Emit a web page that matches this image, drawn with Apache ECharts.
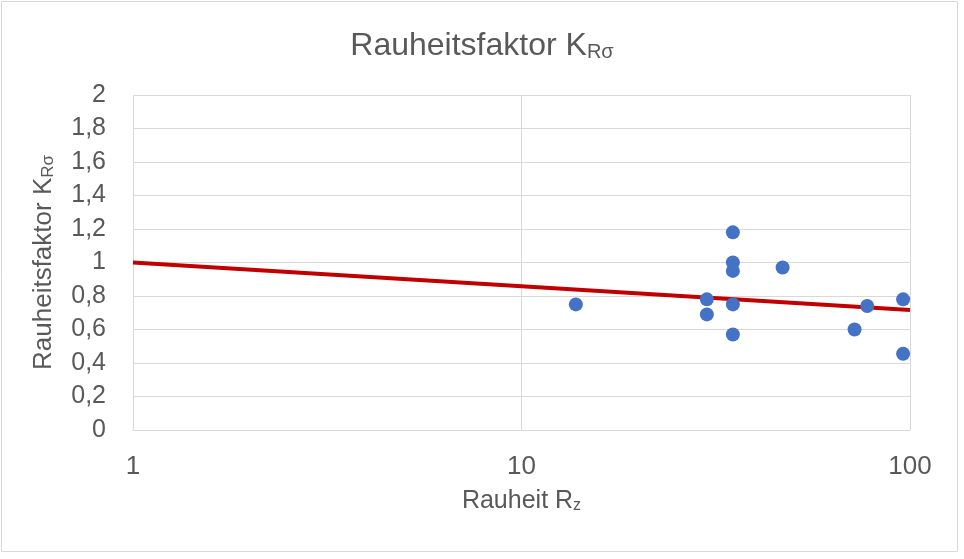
<!DOCTYPE html>
<html>
<head>
<meta charset="utf-8" />
<title>Rauheitsfaktor</title>
<script src="https://cdn.jsdelivr.net/npm/echarts@6/dist/echarts.min.js"></script>
<style>
  html, body { margin: 0; padding: 0; background: #fff; }
  #chart { width: 964px; height: 559px; }
</style>
</head>
<body>
<div id="chart"></div>
<script type="text/javascript">
// Messpunkte: Rauheit Rz und Rauheitsfaktor K_Rsigma
var rzValues = [13.8, 30, 30, 35, 35, 35, 35, 35, 47, 72, 77.6, 96, 96];
var kValues = [0.75, 0.78, 0.69, 1.18, 1.0, 0.95, 0.75, 0.57, 0.97, 0.60, 0.74, 0.78, 0.455];
// Trendlinie (Endpunkte)
var trendRz = [1, 100];
var trendK = [1.0, 0.716];
// Achsen
var xTicks = [1, 10, 100];
var yMin = 0, yMax = 2, yStep = 0.2;

var textColor = '#595959';
var fontFam = '"Liberation Sans", Arial, sans-serif';

function pairs(xs, ys) {
	var out = [];
	for (var i = 0; i < xs.length; i++) out.push([xs[i], ys[i]]);
	return out;
}

var myChart = echarts.init(document.getElementById('chart'));
var option = {
	backgroundColor: '#fff',
	animation: false,
	textStyle: { fontFamily: fontFam, color: textColor },
	title: {
		left: 'center',
		top: 25,
		text: '{a|Rauheitsfaktor K}{b|Rσ}',
		textStyle: {
			fontWeight: 'normal',
			rich: {
				a: { fontFamily: fontFam, fontSize: 32, fontWeight: 'normal', color: textColor, lineHeight: 32, verticalAlign: 'bottom' },
				b: { fontFamily: fontFam, fontSize: 20, fontWeight: 'normal', color: textColor, lineHeight: 6, verticalAlign: 'bottom' }
			}
		}
	},
	graphic: [{
		type: 'rect',
		shape: { x: 1.5, y: 1.5, width: 956, height: 550 },
		style: { fill: 'none', stroke: '#d9d9d9', lineWidth: 1 },
		silent: true
	}],
	grid: { left: 133, top: 95, right: 54, bottom: 129, containLabel: false },
	xAxis: {
		type: 'log',
		logBase: 10,
		min: xTicks[0],
		max: xTicks[xTicks.length - 1],
		name: '{a|Rauheit R}{b|z}',
		nameLocation: 'middle',
		nameGap: 59,
		nameTextStyle: {
			rich: {
				a: { fontFamily: fontFam, fontSize: 25, color: textColor, lineHeight: 25, verticalAlign: 'bottom' },
				b: { fontFamily: fontFam, fontSize: 16, color: textColor, lineHeight: 6, verticalAlign: 'bottom' }
			}
		},
		axisLine: { show: true, lineStyle: { color: '#d9d9d9', width: 1 } },
		axisTick: { show: false },
		axisLabel: { fontSize: 26, color: textColor, margin: 24, fontFamily: fontFam },
		splitLine: { show: true, lineStyle: { color: '#d9d9d9', width: 1 } },
		minorTick: { show: false },
		minorSplitLine: { show: false }
	},
	yAxis: {
		type: 'value',
		min: yMin,
		max: yMax,
		interval: yStep,
		name: '{a|Rauheitsfaktor K}{b|Rσ}',
		nameLocation: 'middle',
		nameGap: 76,
		nameTextStyle: {
			rich: {
				a: { fontFamily: fontFam, fontSize: 26, color: textColor, lineHeight: 26, verticalAlign: 'bottom' },
				b: { fontFamily: fontFam, fontSize: 17, color: textColor, lineHeight: 6, verticalAlign: 'bottom' }
			}
		},
		axisLine: { show: false },
		axisTick: { show: false },
		axisLabel: {
			fontSize: 25,
			color: textColor,
			margin: 27,
			padding: [4, 0, 0, 0],
			fontFamily: fontFam,
			formatter: function (v) {
				return String(Math.round(v * 10) / 10).replace('.', ',');
			}
		},
		splitLine: { show: true, lineStyle: { color: '#d9d9d9', width: 1 } }
	},
	series: [{
		name: 'Trend',
		type: 'line',
		data: pairs(trendRz, trendK),
		symbol: 'none',
		lineStyle: { color: '#c00000', width: 4 },
		z: 2
	}, {
		name: 'Messwerte',
		type: 'scatter',
		data: pairs(rzValues, kValues),
		symbol: 'circle',
		symbolSize: 14,
		itemStyle: { color: '#4472c4', opacity: 1 },
		z: 3
	}]
};
myChart.setOption(option);
</script>
</body>
</html>
